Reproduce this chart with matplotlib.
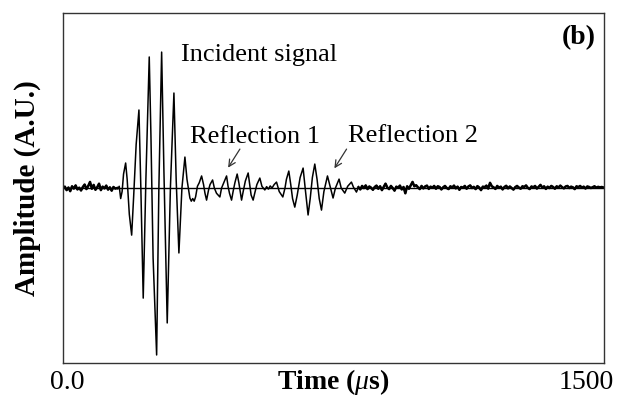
import matplotlib
matplotlib.use("Agg")

import matplotlib.pyplot as plt
import matplotlib.transforms as mtransforms
import numpy as np

plt.rcParams["font.family"] = ["Liberation Serif", "DejaVu Serif"]
plt.rcParams["mathtext.fontset"] = "custom"
plt.rcParams["mathtext.rm"] = "Liberation Serif:bold"
plt.rcParams["mathtext.it"] = "Liberation Serif:italic"

# baseline noise before the incident pulse (amplitude x 1e-3), 0-150 us
pre_noise = [-5, 8, -12, 3, -18, 10, -3, 15, -8, 2, -14, 6, 20, -6, 12, 35,
             -4, 18, -10, 5, 25, -12, 8, -2, 14, -9, 4, -15, 6, -3, 0]

# incident pulse and the two reflections, read peak by peak
pulse_time = [152, 156, 160, 164, 168, 173.8, 178, 184, 190.5, 196, 203, 210.7,
              216, 222.6, 230, 239.3, 244, 250, 259.8, 266, 273.7, 280, 289.2,
              298, 307.8, 314, 321.6, 330, 338.3, 344, 352.1, 356, 360, 364, 368,
              373, 378, 384.6, 390, 394, 398.4, 404, 408, 415.1, 420, 426, 435.3,
              440, 446, 453.9, 458, 462, 467.7, 472, 477, 483.3, 488, 495.5, 500,
              506, 513.8, 518, 522, 527.6, 532, 538, 546.2, 552, 560.1, 565, 570,
              575, 580, 586, 592.5, 600, 610, 616, 620, 626.6, 632, 637, 643.2,
              650, 658, 666.3, 672, 680.1, 686, 692, 698.7, 705, 711, 717.3, 724,
              733.9, 740, 749.4, 756, 766.1, 772, 781.9, 790, 800.4, 806, 814.3]
pulse_amp = [-0.005, 0.01, -0.06, -0.02, 0.08, 0.143, 0.05, -0.15, -0.269, -0.05,
             0.25, 0.446, 0.0, -0.629, 0.05, 0.749, 0.3, -0.4, -0.954, 0.0, 0.777,
             0.1, -0.771, 0.0, 0.543, 0.05, -0.371, 0.0, 0.177, 0.05, -0.057,
             -0.075, -0.06, -0.075, -0.05, 0.01, 0.03, 0.069, 0.02, -0.03, -0.069,
             -0.01, 0.02, 0.046, 0.0, -0.03, -0.051, 0.0, 0.03, 0.069, 0.01, -0.03,
             -0.069, -0.02, 0.03, 0.08, 0.03, -0.069, -0.02, 0.04, 0.086, 0.02,
             -0.04, -0.069, -0.03, 0.02, 0.057, 0.01, -0.011, 0.008, -0.006, 0.012,
             0.0, 0.02, 0.034, -0.02, -0.051, 0.0, 0.05, 0.097, 0.02, -0.06,
             -0.109, -0.04, 0.06, 0.114, 0.0, -0.154, -0.06, 0.06, 0.137, 0.05,
             -0.06, -0.126, -0.02, 0.069, 0.02, -0.057, 0.0, 0.051, 0.0, -0.029,
             0.01, 0.034, 0.005, -0.023]

# tail noise after the reflections (amplitude x 1e-3), 820-1500 us
post_noise = [5, -8, 12, 0, 15, -6, 9, 2, -10, 6,
              14, -4, 10, -12, 6, 25, 3, -6, 12, 0,
              -15, 8, 2, 14, -8, 6, -30, 10, -4, 16,
              35, 10, 16, 4, -6, 12, -2, 9, 14, -5,
              8, 2, 12, -4, 10, 6, -8, 4, 12, 0,
              -6, 10, 3, 14, -2, 8, -10, 6, 2, 12,
              -4, 9, 15, 0, 7, -6, 11, 3, -12, 8,
              5, 14, -3, 30, 10, 4, -5, 12, 2, 8,
              -8, 6, 13, -2, 9, 0, -9, 5, 12, 3,
              -4, 10, 6, 15, 1, -6, 9, 4, 12, -3,
              7, 18, 2, 10, -5, 8, 0, 12, 6, -4,
              10, 3, 14, 5, -2, 9, 12, 0, 8, 4,
              -6, 10, 5, 12, 2, 8, -3, 9, 6, 0,
              5, 10, 2, 7, 4, 6, 3]

incident_label = "Incident signal"
reflection_labels = ["Reflection 1", "Reflection 2"]
panel_label = "(b)"
x_ticks = [0, 1500]
x_tick_labels = ["0.0", "1500"]

pre_time = np.linspace(0, 150, len(pre_noise))
post_time = np.linspace(820, 1500, len(post_noise))
time = np.concatenate([pre_time, pulse_time, post_time])
amp = np.concatenate([np.array(pre_noise) / 1000, pulse_amp, np.array(post_noise) / 1000])

fig = plt.figure(figsize=(6.19, 3.97), dpi=100)
ax = fig.add_axes([0.1018, 0.0856, 0.8732, 0.8815])

ax.axhline(0, color="black", lw=1.0, zorder=1)
ax.plot(time, amp, color="black", lw=1.1, zorder=2)
# the flat noise segments read thicker in the source
ax.plot(pre_time, np.array(pre_noise) / 1000, color="black", lw=1.8, zorder=2)
ax.plot(post_time, np.array(post_noise) / 1000, color="black", lw=1.8, zorder=2)

ax.set_xlim(0, 1500)
ax.set_ylim(-1, 1)
ax.set_yticks([])
ax.set_xticks(x_ticks)
ax.set_xticklabels(x_tick_labels, fontsize=20)
ax.tick_params(axis="x", length=0, pad=5)
for lbl, dx in zip(ax.get_xticklabels(), [4, -17]):
    lbl.set_transform(lbl.get_transform() + mtransforms.ScaledTranslation(dx / 100, 0, fig.dpi_scale_trans))

for side in ["left", "right", "top", "bottom"]:
    ax.spines[side].set_color("#333333")
    ax.spines[side].set_linewidth(1.0)

ax.set_xlabel(r"Time ($\mathit{\mu}$s)", fontsize=20, fontweight="bold", labelpad=-20)
ax.set_ylabel("Amplitude (A.U.)", fontsize=21, fontweight="bold", labelpad=16)

ax.text(327, 0.76, incident_label, fontsize=19, va="center", ha="left")
ax.text(352, 0.29, reflection_labels[0], fontsize=19, va="center", ha="left")
ax.text(790, 0.30, reflection_labels[1], fontsize=19, va="center", ha="left")
ax.text(1478, 0.86, panel_label, fontsize=20, fontweight="bold", va="center", ha="right")

arrow_style = dict(arrowstyle="->", color="#333333", lw=0.9, mutation_scale=12)
ax.annotate("", xy=(454, 0.103), xytext=(495, 0.236), arrowprops=arrow_style)
ax.annotate("", xy=(749, 0.099), xytext=(791, 0.236), arrowprops=arrow_style)

plt.savefig("out.png", dpi=100)
plt.close(fig)
